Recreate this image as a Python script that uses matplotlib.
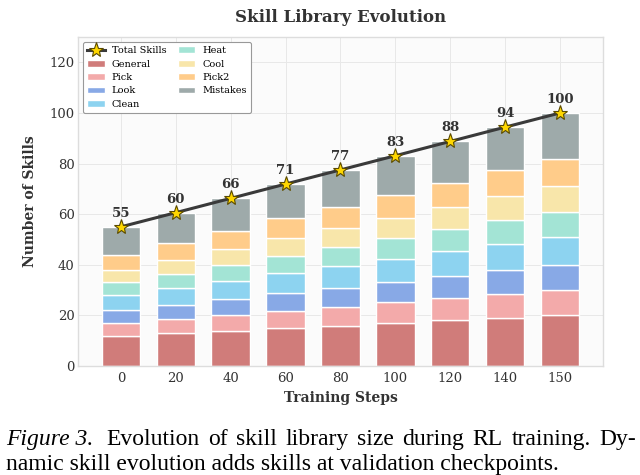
import matplotlib
matplotlib.use("Agg")
import matplotlib.pyplot as plt
import numpy as np

steps = ["0", "20", "40", "60", "80", "100", "120", "140", "150"]
general = [12, 13, 14, 15, 16, 17, 18, 19, 20]
pick = [5, 5.6, 6.25, 6.9, 7.5, 8.1, 8.75, 9.4, 10]
look = [5, 5.6, 6.25, 6.9, 7.5, 8.1, 8.75, 9.4, 10]
clean = [6, 6.6, 7.25, 7.9, 8.5, 9.1, 9.75, 10.4, 11]
heat = [5, 5.6, 6.25, 6.9, 7.5, 8.1, 8.75, 9.4, 10]
cool = [5, 5.6, 6.25, 6.9, 7.5, 8.1, 8.75, 9.4, 10]
pick2 = [6, 6.6, 7.25, 7.9, 8.5, 9.1, 9.75, 10.4, 11]
mistakes = [11, 11.9, 12.75, 13.6, 14.5, 15.4, 16.25, 17.1, 18]
total_skills = [55, 60.6, 66.25, 71.9, 77.5, 83.1, 88.75, 94.4, 100]
total_labels = ["55", "60", "66", "71", "77", "83", "88", "94", "100"]

categories = ["General", "Pick", "Look", "Clean", "Heat", "Cool", "Pick2", "Mistakes"]
series = [general, pick, look, clean, heat, cool, pick2, mistakes]
colors = ["#D07C7A", "#F3AAAA", "#88A9E6", "#8DD3F0", "#A3E4D5",
          "#F8E6AA", "#FFCC8A", "#9EAAAA"]

caption_line1 = ["Evolution", "of", "skill", "library", "size", "during", "RL",
                 "training.", "Dy-"]
caption_line2 = "namic skill evolution adds skills at validation checkpoints."

plt.rcParams["font.family"] = ["DejaVu Serif"]

fig = plt.figure(figsize=(6.4, 4.75), dpi=100)
ax = fig.add_axes([0.122, 0.2295, 0.82, 0.6925])
ax.set_facecolor("#FBFBFB")

x = np.arange(len(steps))
bottom = np.zeros(len(steps))
bar_handles = []
for name, vals, c in zip(categories, series, colors):
    vals = np.array(vals, dtype=float)
    b = ax.bar(x, vals, 0.7, bottom=bottom, color=c, edgecolor="white",
               linewidth=1.0, label=name, zorder=2)
    bar_handles.append(b)
    bottom += vals

line, = ax.plot(x, total_skills, color="#3a3a3a", linewidth=2.2, marker="*",
                markersize=11, markerfacecolor="#FFD700",
                markeredgecolor="#5a4a00", markeredgewidth=0.8,
                label="Total Skills", zorder=4)
for xi, yi, lab in zip(x, total_skills, total_labels):
    ax.annotate(lab, (xi, yi), xytext=(0, 5), textcoords="offset points",
                ha="center", va="bottom", fontsize=9.5, fontweight="bold",
                color="#333333", zorder=5)

ax.set_xlim(-0.78, 8.78)
ax.set_ylim(0, 130)
ax.set_yticks([0, 20, 40, 60, 80, 100, 120])
ax.set_xticks(x)
ax.set_xticklabels(steps)
ax.tick_params(axis="y", labelsize=9.5, colors="#333333", length=0, pad=2.5)
ax.tick_params(axis="x", labelsize=9.5, colors="#333333", length=0, pad=4)
ax.grid(True, color="#E8E8E8", linewidth=0.7, zorder=0)
ax.set_axisbelow(True)
for s in ax.spines.values():
    s.set_color("#DDDDDD")
    s.set_linewidth(1.0)

ax.set_xlabel("Training Steps", fontsize=10, fontweight="bold", color="#333333", labelpad=5)
ax.set_ylabel("Number of Skills", fontsize=10, fontweight="bold", color="#333333", labelpad=9)
ax.set_title("Skill Library Evolution", fontsize=12, fontweight="bold", color="#333333", pad=11)

handles = [line] + bar_handles
labels = ["Total Skills"] + categories
leg = ax.legend(handles, labels, loc="upper left", ncol=2, fontsize=7,
                frameon=True, fancybox=True, framealpha=1, edgecolor="#999999",
                borderpad=0.45, labelspacing=0.45, handlelength=1.8,
                columnspacing=1.2, handletextpad=0.7, bbox_to_anchor=(0.0, 1.0))
leg.get_frame().set_linewidth(0.8)

# caption
W = 640.0
fs = 17
y1 = 1 - 445 / 475.0
y2 = 1 - 470 / 475.0
fig.text(6 / W, y1, "Figure 3.", fontsize=fs, style="italic",
         family=["Liberation Serif"], ha="left", va="baseline")
fig.canvas.draw()
renderer = fig.canvas.get_renderer()
word_objs = [fig.text(0, y1, w, fontsize=fs, family=["Liberation Serif"],
                      ha="left", va="baseline") for w in caption_line1]
widths = [t.get_window_extent(renderer).width for t in word_objs]
start, end = 106.0, 636.0
gap = (end - start - sum(widths)) / (len(widths) - 1)
pos = start
for t, wd in zip(word_objs, widths):
    t.set_x(pos / W)
    pos += wd + gap
fig.text(6 / W, y2, caption_line2, fontsize=fs, family=["Liberation Serif"],
         ha="left", va="baseline")

fig.savefig("out.png", dpi=100)
